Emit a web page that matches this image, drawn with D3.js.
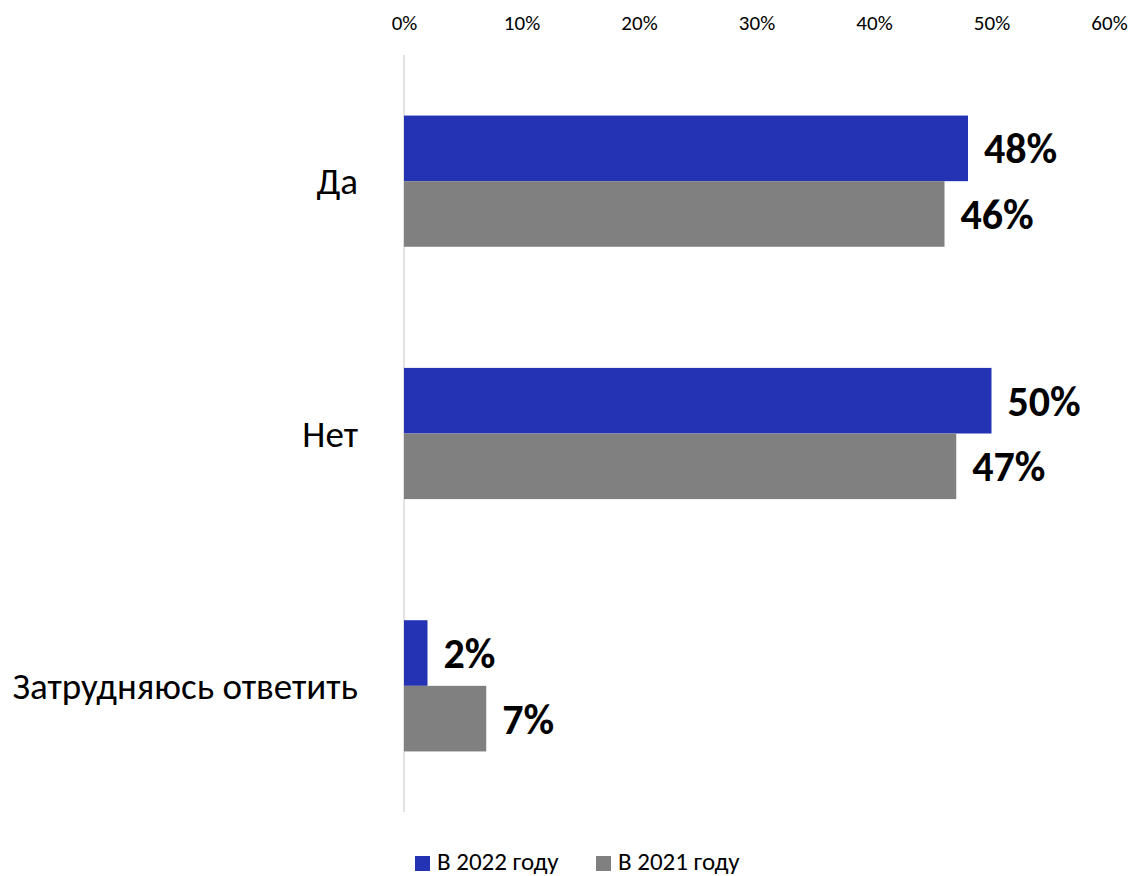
<!DOCTYPE html>
<html><head><meta charset="utf-8">
<script src="https://cdn.jsdelivr.net/npm/d3@7"></script>
<style>body{margin:0;background:#fff}svg{display:block}text{font-family:Carlito,Lato,"Open Sans",sans-serif}</style>
</head><body>
<script>
const categories = ["Да", "Нет", "Затрудняюсь ответить"];
const seriesNames = ["В 2022 году", "В 2021 году"];
const values2022 = [48, 50, 2];
const values2021 = [46, 47, 7];
const tickValues = [0, 10, 20, 30, 40, 50, 60];
const colors = ["#2432B4", "#808080"];

const W = 1132, H = 876;
const FONT = "Carlito,Lato,'Open Sans',sans-serif";
const svg = d3.select("body").append("svg").attr("width", W).attr("height", H);
const x = d3.scaleLinear().domain([0, 60]).range([404, 1109]);
const y = d3.scaleBand().domain(categories).range([55, 812]).paddingInner(0.48).paddingOuter(0.24);
const ySub = d3.scaleBand().domain(seriesNames).range([0, y.bandwidth()]);

// axis line
svg.append("line").attr("x1", x(0)).attr("x2", x(0)).attr("y1", 55).attr("y2", 812)
  .attr("stroke", "#d9d9d9").attr("stroke-width", 1.5);

// top tick labels
const ax = d3.axisTop(x).tickValues(tickValues).tickFormat(d => d + "%").tickSize(0).tickPadding(0);
const g = svg.append("g").attr("transform", "translate(0,30)").call(ax)
  .attr("font-size", 21).attr("font-family", FONT);
g.select(".domain").remove();
g.selectAll("text").attr("dy", 0).attr("fill", "#000");

const data = [values2022, values2021];
data.forEach((vals, si) => {
  const gs = svg.append("g");
  gs.selectAll("rect").data(vals).join("rect")
    .attr("x", x(0)).attr("y", (d, i) => y(categories[i]) + ySub(seriesNames[si]))
    .attr("width", d => x(d) - x(0)).attr("height", ySub.bandwidth())
    .attr("fill", colors[si]);
  gs.selectAll("text").data(vals).join("text")
    .attr("x", d => x(d) + 16).attr("y", (d, i) => y(categories[i]) + ySub(seriesNames[si]) + ySub.bandwidth() / 2)
    .attr("dy", "0.36em").attr("font-size", 42).attr("font-weight", "bold").attr("fill", "#000")
    .text(d => d + "%");
});

// category labels
svg.selectAll(".cat").data(categories).join("text").attr("class", "cat")
  .attr("x", 358).attr("y", d => y(d) + y.bandwidth() / 2).attr("dy", "0.36em")
  .attr("text-anchor", "end").attr("font-size", 37).attr("fill", "#000").text(d => d);

// legend
const legX = [415, 596];
seriesNames.forEach((s, i) => {
  svg.append("rect").attr("x", legX[i]).attr("y", 856).attr("width", 15).attr("height", 15).attr("fill", colors[i]);
  svg.append("text").attr("x", legX[i] + 22).attr("y", 870).attr("font-size", 25).attr("fill", "#000").text(s);
});
</script>
</body></html>
